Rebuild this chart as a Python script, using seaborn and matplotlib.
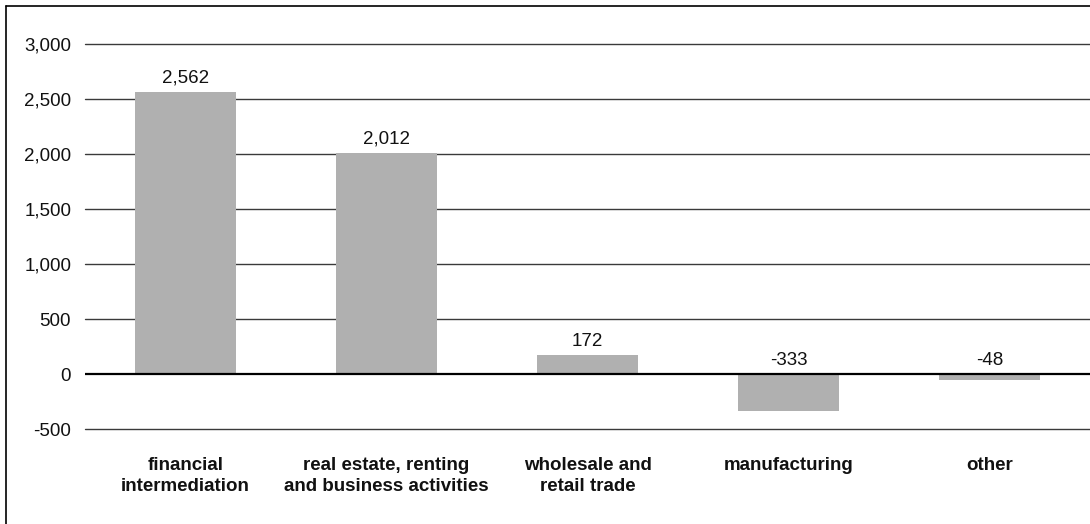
import matplotlib
matplotlib.use("Agg")
import matplotlib.pyplot as plt
from matplotlib.lines import Line2D
import seaborn as sns
import pandas as pd

sectors = [
    "financial\nintermediation",
    "real estate, renting\nand business activities",
    "wholesale and\nretail trade",
    "manufacturing",
    "other",
]
values = [2562, 2012, 172, -333, -48]
y_ticks = [-500, 0, 500, 1000, 1500, 2000, 2500, 3000]

sns.set_theme(style="white")
plt.rcParams["font.family"] = ["Liberation Sans", "DejaVu Sans"]

df = pd.DataFrame({"sector": sectors, "value": values})

fig = plt.figure(figsize=(10.9, 5.24), dpi=100)
ax = fig.add_axes([0.078, 0.1807, 0.922, 0.7348])

for t in y_ticks:
    if t != 0:
        ax.axhline(t, color="#3a3a3a", linewidth=1.0, zorder=0, clip_on=False)

sns.barplot(data=df, x="sector", y="value", color="#b0b0b0", saturation=1,
            width=0.5, linewidth=0, edgecolor="none", ax=ax, zorder=2)

ax.axhline(0, color="black", linewidth=1.6, zorder=3)

for i, v in enumerate(values):
    ax.annotate(f"{v:,}", xy=(i, max(v, 0)), xytext=(0, 4),
                textcoords="offset points", ha="center", va="bottom",
                fontsize=13.5, color="#111111")

ax.set_ylim(-500, 3000)
ax.set_yticks(y_ticks)
ax.set_yticklabels([f"{t:,}" for t in y_ticks], fontsize=13.5, color="#111111")
ax.set_xticks(range(len(sectors)))
ax.set_xticklabels(sectors, fontsize=13.5, fontweight="bold", color="#111111",
                   multialignment="center", linespacing=1.28)
ax.tick_params(axis="y", length=0, pad=10)
ax.tick_params(axis="x", length=0, pad=20)
ax.set_xlabel("")
ax.set_ylabel("")
ax.set_xlim(-0.5, len(sectors) - 0.5)
for s in ax.spines.values():
    s.set_visible(False)

# outer frame (top and left edges)
fig.add_artist(Line2D([5.5 / 1090, 5.5 / 1090], [0, 1 - 6 / 524],
                      transform=fig.transFigure, color="black", linewidth=1.2))
fig.add_artist(Line2D([5.5 / 1090, 1], [1 - 6 / 524, 1 - 6 / 524],
                      transform=fig.transFigure, color="black", linewidth=1.2))

fig.savefig("out.png", dpi=100)
